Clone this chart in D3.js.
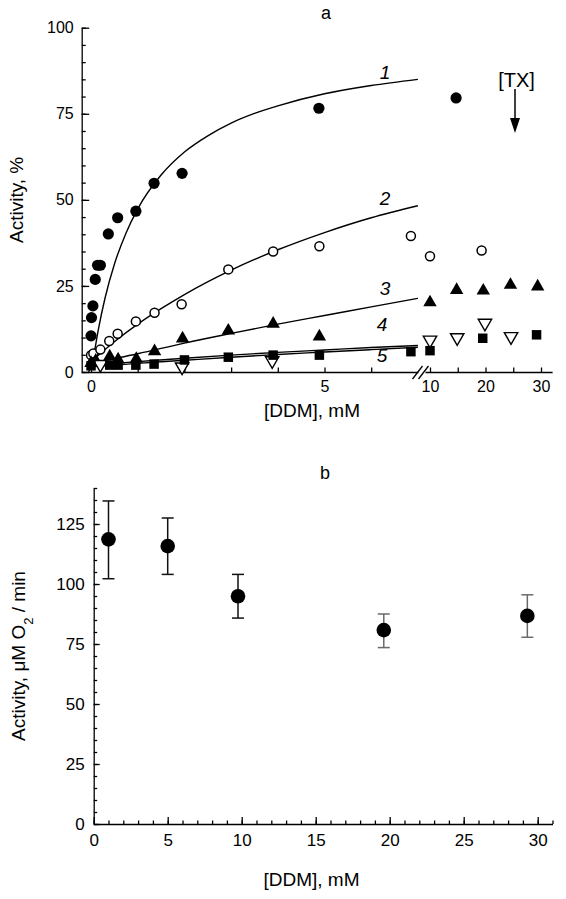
<!DOCTYPE html>
<html><head><meta charset="utf-8">
<script src="https://cdn.jsdelivr.net/npm/d3@7"></script>
<style>
body{margin:0;background:#fff}
svg{display:block}
text{font-family:"Liberation Sans",Arial,Helvetica,sans-serif;fill:#000}
</style>
</head><body>
<svg id="c" width="566" height="899"></svg>
<script>
// ---------- Panel a data: [DDM] mM, Activity % ----------
const series1 = [[0,10.5],[0.01,15.8],[0.04,19.2],[0.09,26.9],[0.14,31],[0.2,31],[0.37,40.1],[0.57,44.8],[0.96,46.7],[1.35,54.8],[1.95,57.7],[4.88,76.6],[14.7,79.6]];
const series2 = [[0,4.9],[0.05,5.4],[0.2,6.5],[0.39,9],[0.57,11.1],[0.96,14.7],[1.36,17.2],[1.94,19.7],[2.94,29.8],[3.9,35],[4.89,36.5],[6.85,39.5],[10,33.6],[19.3,35.3]];
const series3 = [[0,2.6],[0.1,3.3],[0.4,4.5],[0.58,3.6],[0.97,3.8],[1.36,6],[1.96,9.7],[2.94,12],[3.9,14],[4.89,10.3],[10,20.2],[14.8,23.8],[19.6,23.6],[24.5,25.3],[29.4,24.8]];
const series4 = [[0.2,2.2],[1.95,1.5],[3.88,3.3],[10,9.3],[14.9,10],[19.9,14.2],[24.6,10.3]];
const series5 = [[0,1.8],[0.4,2],[0.58,2],[0.96,2],[1.35,2.3],[2,3.5],[2.94,4.3],[3.9,4.9],[4.89,4.9],[6.85,5.9],[10,6.2],[19.5,9.8],[29.2,10.8]];
// fitted curves
const curve1 = [[-0.05,0],[0.05,4.3],[0.15,11.9],[0.3,21.5],[0.5,31.3],[0.75,40.4],[1,47.4],[1.5,57.2],[2,63.9],[2.5,68.6],[3,72.3],[3.5,75.1],[4,77.3],[5,80.8],[6,83.2],[7,85]];
const curve2 = [[0,3],[0.5,8.8],[1,13.9],[1.5,18.4],[2,22.5],[3,29.6],[4,35.5],[5,40.5],[6,44.8],[7,48.3]];
const curve3 = [[0,2.5],[1,5.3],[2,8.4],[3,11.2],[4,13.9],[5,16.4],[6,18.9],[7,21.4]];
const curve4 = [[0,2],[1,3],[2,4],[3,4.9],[4,5.7],[5,6.4],[6,7.1],[7,7.7]];
const curve5 = [[0,1.5],[1,2.5],[2,3.4],[3,4.3],[4,5.1],[5,5.8],[6,6.5],[7,7.2]];
const curveLabels = [["1",85],["2",48.5],["3",22.5],["4",11.8],["5",3]];
const aYTicks = [0,25,50,75,100];
const aXTicksLeft = [0,5];
const aXTicksRight = [10,20,30];

// ---------- Panel b data ----------
const bDDM = [1,5,9.75,19.6,29.3];
const bActivity = [118.6,115.8,94.9,80.8,86.7];
const bErrHigh = [134.6,127.5,104,87.5,95.5];
const bErrLow = [102.2,104,85.8,73.5,77.8];
const bYTicks = [0,25,50,75,100,125];
const bXTicks = [0,5,10,15,20,25,30];

const svg = d3.select('#c');
const FONT_T = 16;

// ================= PANEL A =================
const xL = d3.scaleLinear().domain([-0.2,7]).range([81.7,417.9]);
const xR = d3.scaleLinear().domain([9.1,32]).range([425,552.1]);
const yA = d3.scaleLinear().domain([0,100]).range([372,27.7]);
const xA = v => v >= 9 ? xR(v) : xL(v);

const gA = svg.append('g');
// y axis
const yAxA = gA.append('g').attr('transform',`translate(${xL(-0.2)},0)`)
  .call(d3.axisLeft(yA).tickValues(d3.range(0,101,5)).tickSizeInner(-4).tickSizeOuter(0).tickFormat(''));
const yAxAMaj = gA.append('g').attr('transform',`translate(${xL(-0.2)},0)`)
  .call(d3.axisLeft(yA).tickValues(aYTicks).tickSizeInner(-7.5).tickSizeOuter(0).tickPadding(8));
yAxAMaj.select('.domain').remove();
yAxAMaj.selectAll('text').style('font-size',FONT_T+'px');
// x axis left
const xAxL = gA.append('g').attr('transform',`translate(0,${yA(0)})`)
  .call(d3.axisBottom(xL).tickValues([0,1,2,3,4,5,6]).tickSizeInner(-4.5).tickSizeOuter(0)
  .tickFormat(d => aXTicksLeft.includes(d) ? d : '').tickPadding(9));
xAxL.selectAll('text').style('font-size',FONT_T+'px');
// x axis right
const xAxR = gA.append('g').attr('transform',`translate(0,${yA(0)})`)
  .call(d3.axisBottom(xR).tickValues([10,15,20,25,30]).tickSizeInner(-4.5).tickSizeOuter(0)
  .tickFormat(d => aXTicksRight.includes(d) ? d : '').tickPadding(9));
xAxR.selectAll('text').style('font-size',FONT_T+'px');
[yAxA,yAxAMaj,xAxL,xAxR].forEach(g=>{g.selectAll('path,line').attr('stroke','#000').attr('stroke-width',1.3);});
// axis break //
const y0 = yA(0);
[[412.5,422.5],[418.5,428.5]].forEach(([a,b])=>{
  gA.append('line').attr('x1',a).attr('y1',y0+7).attr('x2',b).attr('y2',y0-6)
    .attr('stroke','#000').attr('stroke-width',1.3);
});

// curves
const lineA = d3.line().x(d=>xL(d[0])).y(d=>yA(d[1])).curve(d3.curveMonotoneX);
[curve1,curve2,curve3,curve4,curve5].forEach(c=>{
  gA.append('path').attr('d',lineA(c)).attr('fill','none').attr('stroke','#000').attr('stroke-width',1.4);
});

// markers
const triUp = d3.symbol().type(d3.symbolTriangle).size(78)();
const sq = d3.symbol().type(d3.symbolSquare).size(90)();
gA.append('g').selectAll('circle').data(series1).join('circle')
  .attr('cx',d=>xA(d[0])).attr('cy',d=>yA(d[1])).attr('r',5.6).attr('fill','#000');
gA.append('g').selectAll('circle').data(series2).join('circle')
  .attr('cx',d=>xA(d[0])).attr('cy',d=>yA(d[1])).attr('r',4.5).attr('fill','#fff').attr('stroke','#000').attr('stroke-width',1.5);
gA.append('g').selectAll('path').data(series3).join('path')
  .attr('d',triUp).attr('transform',d=>`translate(${xA(d[0])},${yA(d[1])})`).attr('fill','#000');
gA.append('g').selectAll('path').data(series4).join('path')
  .attr('d',triUp).attr('transform',d=>`translate(${xA(d[0])},${yA(d[1])}) rotate(180)`)
  .attr('fill','#fff').attr('stroke','#000').attr('stroke-width',1.4);
gA.append('g').selectAll('path').data(series5).join('path')
  .attr('d',sq).attr('transform',d=>`translate(${xA(d[0])},${yA(d[1])})`).attr('fill','#000');

// curve labels
gA.append('g').selectAll('text').data(curveLabels).join('text')
  .attr('x',(d,i)=> i>=3 ? 382 : 385).attr('y',d=>yA(d[1])).attr('text-anchor','middle')
  .style('font-size','19px').style('font-style','italic').text(d=>d[0]);

// [TX] arrow
gA.append('text').attr('x',516.5).attr('y',87).attr('text-anchor','middle').style('font-size','20px').text('[TX]');
gA.append('line').attr('x1',515).attr('y1',89).attr('x2',515).attr('y2',122).attr('stroke','#000').attr('stroke-width',1.5);
gA.append('path').attr('d','M510,118 L520,118 L515,133 Z').attr('fill','#000');

// titles
gA.append('text').attr('x',326).attr('y',19).attr('text-anchor','middle').style('font-size','18px').text('a');
gA.append('text').attr('transform',`translate(23,${(yA(0)+yA(100))/2}) rotate(-90)`).attr('text-anchor','middle')
  .style('font-size','19px').text('Activity, %');
gA.append('text').attr('x',312).attr('y',417).attr('text-anchor','middle').style('font-size','19px').text('[DDM], mM');

// ================= PANEL B =================
const xB = d3.scaleLinear().domain([0,31]).range([93.7,552.5]);
const yB = d3.scaleLinear().domain([0,140]).range([824,488]);
const gB = svg.append('g');
const FONT_B = 17;
const yAxB = gB.append('g').attr('transform',`translate(${xB(0)},0)`)
  .call(d3.axisLeft(yB).tickValues(d3.range(0,141,5)).tickSizeInner(-3.5).tickSizeOuter(0).tickFormat(''));
const yAxBMaj = gB.append('g').attr('transform',`translate(${xB(0)},0)`)
  .call(d3.axisLeft(yB).tickValues(bYTicks).tickSizeInner(-6).tickSizeOuter(0).tickPadding(9));
yAxBMaj.select('.domain').remove();
yAxBMaj.selectAll('text').style('font-size',FONT_B+'px');
const xAxB = gB.append('g').attr('transform',`translate(0,${yB(0)})`)
  .call(d3.axisBottom(xB).tickValues(d3.range(0,32,1)).tickSizeInner(-3.5).tickSizeOuter(0).tickFormat(''));
const xAxBMaj = gB.append('g').attr('transform',`translate(0,${yB(0)})`)
  .call(d3.axisBottom(xB).tickValues(bXTicks).tickSizeInner(-7).tickSizeOuter(0).tickPadding(10));
xAxBMaj.select('.domain').remove();
xAxBMaj.selectAll('text').style('font-size',FONT_B+'px');
[yAxB,yAxBMaj,xAxB,xAxBMaj].forEach(g=>{g.selectAll('path,line').attr('stroke','#000').attr('stroke-width',1.3);});

// error bars
const bData = bDDM.map((x,i)=>({x, y:bActivity[i], hi:bErrHigh[i], lo:bErrLow[i], c: i>=3 ? '#6a6a6a' : '#111'}));
const eb = gB.append('g').selectAll('g').data(bData).join('g');
eb.append('line').attr('x1',d=>xB(d.x)).attr('x2',d=>xB(d.x)).attr('y1',d=>yB(d.hi)).attr('y2',d=>yB(d.lo))
  .attr('stroke',d=>d.c).attr('stroke-width',1.5);
eb.append('line').attr('x1',d=>xB(d.x)-6).attr('x2',d=>xB(d.x)+6).attr('y1',d=>yB(d.hi)).attr('y2',d=>yB(d.hi))
  .attr('stroke',d=>d.c).attr('stroke-width',1.5);
eb.append('line').attr('x1',d=>xB(d.x)-6).attr('x2',d=>xB(d.x)+6).attr('y1',d=>yB(d.lo)).attr('y2',d=>yB(d.lo))
  .attr('stroke',d=>d.c).attr('stroke-width',1.5);
eb.append('circle').attr('cx',d=>xB(d.x)).attr('cy',d=>yB(d.y)).attr('r',7.3).attr('fill','#000');

gB.append('text').attr('x',325).attr('y',479).attr('text-anchor','middle').style('font-size','18px').text('b');
const yl = gB.append('text').attr('transform',`translate(25,${(yB(0)+yB(140))/2}) rotate(-90)`).attr('text-anchor','middle')
  .style('font-size','19px');
yl.append('tspan').text('Activity, \u03BCM O');
yl.append('tspan').attr('baseline-shift','sub').style('font-size','13px').text('2');
yl.append('tspan').text(' / min');
gB.append('text').attr('x',311.5).attr('y',886).attr('text-anchor','middle').style('font-size','19px').text('[DDM], mM');
</script>
</body></html>
